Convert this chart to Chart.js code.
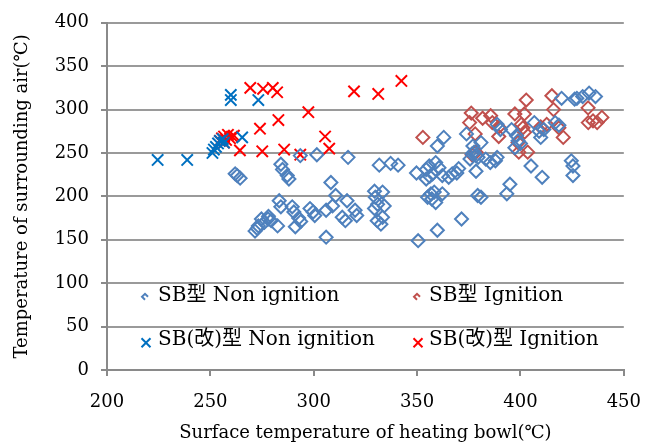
<!DOCTYPE html>
<html><head><meta charset="utf-8">
<script src="https://cdn.jsdelivr.net/npm/chart.js@4.4.0/dist/chart.umd.min.js"></script>
<style>html,body{margin:0;padding:0;background:#fff}</style>
</head><body>
<canvas id="c" width="657" height="444"></canvas>
<script>
const xTickValues = [200, 250, 300, 350, 400, 450];
const yTickValues = [0, 50, 100, 150, 200, 250, 300, 350, 400];
const seriesNames = ["SB型 Non ignition", "SB型 Ignition", "SB(改)型 Non ignition", "SB(改)型 Ignition"];
const xTitle = "Surface temperature of heating bowl(℃)";
const yTitle = "Temperature of surrounding air(℃)";

// SB型 Non ignition
const sbNonX = [263.0,264.4,262.0,271.6,272.7,273.2,274.7,276.1,277.9,279.4,282.5,278.1,283.3,284.1,289.6,290.4,292.7,293.7,291.1,298.2,299.7,300.5,306.0,309.1,310.6,308.3,306.0,316.1,313.8,315.3,320.0,320.8,284.1,284.9,287.2,288.0,293.5,301.5,316.6,331.7,337.2,340.8,329.4,333.3,330.9,334.1,329.4,333.3,332.5,330.7,329.8,349.7,354.4,355.9,359.0,360.6,357.5,354.4,356.1,362.2,365.3,369.2,362.9,359.8,355.1,356.7,358.3,359.0,362.2,357.1,371.5,359.8,350.5,367.0,370.1,373.9,377.0,380.9,378.5,376.6,379.5,377.6,375.6,388.7,390.3,395.7,398.1,398.8,397.3,400.0,383.2,387.9,388.7,385.4,378.5,405.1,410.5,409.0,406.7,409.8,411.3,416.8,418.6,424.6,425.4,425.4,419.9,426.2,430.1,433.2,436.3,427.3,379.3,380.9,393.4,394.9];
const sbNonY = [224,221,226,160,163,166,174,170,174,172,166,177,195,188,188,182,175,171,165,186,182,178,184,189,201,216,153,195,176,172,184,178,237,231,224,220,247,248,245,236,238,236,206,205,191,189,186,176,168,172,199,227,231,235,239,233,226,220,223,224,222,227,268,258,199,203,205,193,203,197,174,161,149,226,232,272,258,262,247,249,245,251,243,283,277,277,270,264,256,261,243,241,245,239,229,235,222,275,285,268,277,285,282,241,235,224,313,312,315,319,315,313,201,199,203,214];

// SB型 Ignition
const sbIgnX = [352.8,376.2,375.4,381.7,385.6,386.4,389.5,389.5,378.1,378.5,376.6,397.3,402.8,401.9,401.2,400.4,402.0,398.8,399.2,403.5,409.8,412.7,415.2,416.0,418.6,420.7,432.7,432.8,437.1,439.4,435.1];
const sbIgnY = [268,296,285,290,293,285,280,269,272,251,248,295,311,295,279,283,274,262,251,251,280,283,316,300,279,268,302,285,285,291,287];

// SB(改)型 Non ignition
const sbkNonX = [224.5,238.8,251.0,251.7,252.7,253.7,254.6,256.0,256.6,259.9,259.9,273.2,265.4];
const sbkNonY = [242,242,250,254,257,261,264,266,262,317,311,311,268];

// SB(改)型 Ignition
const sbkIgnX = [269.3,275.5,280.2,282.3,282.9,274.0,264.3,275.1,285.7,297.4,305.5,307.5,293.5,319.5,331.2,342.4,254.6,255.6,256.6,257.6,258.5,259.5,260.5,256.6,261.4];
const sbkIgnY = [325,324,325,320,288,278,253,252,254,297,269,255,248,321,318,333,264,267,269,265,271,267,269,262,270];

const FONT = "'DejaVu Serif', 'Noto Sans CJK JP', serif";
const colors = ['#4F81BD', '#C0504D', '#0070C0', '#FF0000'];
const GRID = '#9a9a9a';
const AXIS = '#8a8a8a';

function pts(xs, ys) { return xs.map((x, i) => ({x: x, y: ys[i]})); }

const legendPlugin = {
  id: 'customLegend',
  afterDatasetsDraw(chart) {
    const ctx = chart.ctx;
    const a = chart.chartArea;
    const entries = [
      {mx: a.left + 38, tx: a.left + 51, y: a.top + 273, kind: 'chev', color: colors[0], text: seriesNames[0]},
      {mx: a.left + 310, tx: a.left + 322, y: a.top + 273, kind: 'chev', color: colors[1], text: seriesNames[1]},
      {mx: a.left + 39, tx: a.left + 51, y: a.top + 317, kind: 'x', color: colors[2], text: seriesNames[2]},
      {mx: a.left + 311, tx: a.left + 322, y: a.top + 317, kind: 'x', color: colors[3], text: seriesNames[3]}
    ];
    ctx.save();
    entries.forEach(e => {
      ctx.strokeStyle = e.color;
      ctx.lineWidth = 2;
      ctx.beginPath();
      if (e.kind === 'chev') {
        const my = e.y + 2;
        ctx.moveTo(e.mx + 3, my - 1);
        ctx.lineTo(e.mx, my - 4);
        ctx.lineTo(e.mx - 3, my - 1);
        ctx.lineTo(e.mx, my + 2);
      } else {
        const r = 4.5, my = e.y + 3;
        ctx.moveTo(e.mx - r, my - r); ctx.lineTo(e.mx + r, my + r);
        ctx.moveTo(e.mx + r, my - r); ctx.lineTo(e.mx - r, my + r);
      }
      ctx.stroke();
      ctx.fillStyle = '#000';
      ctx.font = '20px ' + FONT;
      ctx.textBaseline = 'middle';
      ctx.textAlign = 'left';
      ctx.fillText(e.text, e.tx, e.y);
    });
    ctx.restore();
  }
};

const diamond = (c) => ({pointStyle: 'rectRot', pointRadius: 6.5, pointHoverRadius: 6.5, pointBorderWidth: 2, borderColor: c, backgroundColor: 'rgba(0,0,0,0)', pointBackgroundColor: 'rgba(0,0,0,0)', pointBorderColor: c});
const cross = (c) => ({pointStyle: 'crossRot', pointRadius: 8, pointHoverRadius: 8, pointBorderWidth: 2, borderColor: c, backgroundColor: c, pointBorderColor: c});

new Chart(document.getElementById('c'), {
  type: 'scatter',
  data: {
    datasets: [
      Object.assign({label: seriesNames[0], data: pts(sbNonX, sbNonY)}, diamond(colors[0])),
      Object.assign({label: seriesNames[1], data: pts(sbIgnX, sbIgnY)}, diamond(colors[1])),
      Object.assign({label: seriesNames[2], data: pts(sbkNonX, sbkNonY)}, cross(colors[2])),
      Object.assign({label: seriesNames[3], data: pts(sbkIgnX, sbkIgnY)}, cross(colors[3]))
    ]
  },
  options: {
    responsive: false,
    animation: false,
    layout: {padding: {top: 22, right: 16, left: 0, bottom: 0}},
    plugins: {legend: {display: false}, tooltip: {enabled: false}},
    scales: {
      x: {
        type: 'linear', min: 200, max: 450,
        afterBuildTicks: (s) => { s.ticks = xTickValues.map(v => ({value: v})); },
        afterFit: (s) => { s.height = 74; },
        ticks: {color: '#000', font: {family: FONT, size: 18}, padding: 16, maxRotation: 0},
        grid: {drawOnChartArea: false, drawTicks: true, tickLength: 6, color: AXIS, lineWidth: 2},
        border: {display: true, color: AXIS, width: 2},
        title: {display: true, text: xTitle, color: '#000', font: {family: FONT, size: 18}, padding: {top: 1, bottom: 0}}
      },
      y: {
        type: 'linear', min: 0, max: 400,
        afterBuildTicks: (s) => { s.ticks = yTickValues.map(v => ({value: v})); },
        afterFit: (s) => { s.width = 107; },
        ticks: {color: '#000', font: {family: FONT, size: 18}, padding: 12},
        grid: {color: GRID, lineWidth: 2, tickLength: 6, tickColor: AXIS},
        border: {display: true, color: AXIS, width: 2},
        title: {display: true, text: yTitle, color: '#000', font: {family: FONT, size: 18}, padding: {top: 12, bottom: 0}}
      }
    }
  },
  plugins: [legendPlugin]
});
</script>
</body></html>
